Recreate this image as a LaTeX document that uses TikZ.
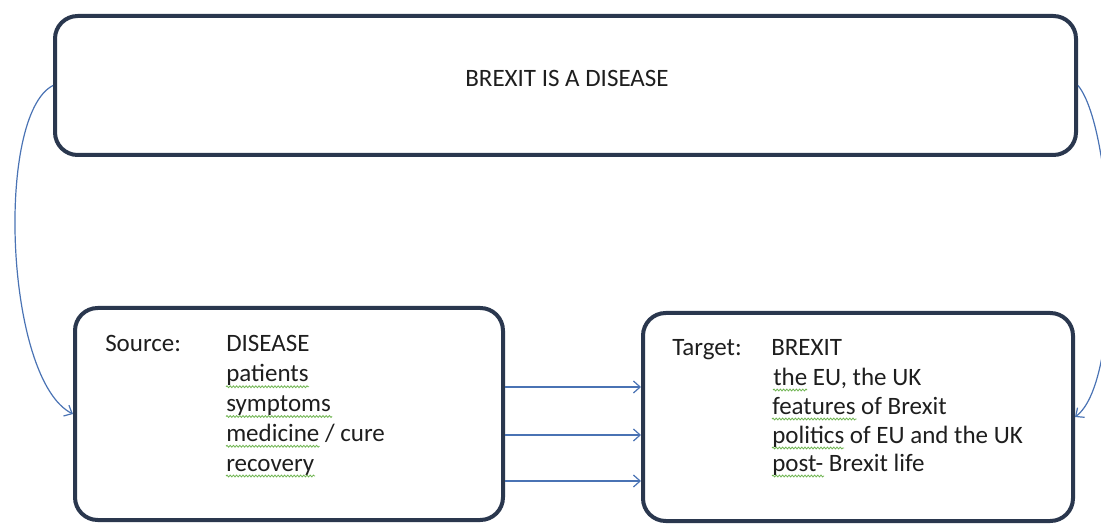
\documentclass[tikz,border=0pt]{standalone}
\usepackage{fontspec}
\setmainfont{Carlito}
\usetikzlibrary{arrows.meta,decorations.pathmorphing}
\definecolor{boxline}{RGB}{42,55,78}
\definecolor{connblue}{RGB}{74,115,180}
\definecolor{squiggle}{RGB}{110,180,80}
\definecolor{txt}{RGB}{30,30,30}
\begin{document}
\begin{tikzpicture}[x=0.75pt,y=-0.75pt,
  box/.style={draw=boxline, line width=3pt, rounded corners=17pt, inner sep=0pt},
  link/.style={draw=connblue, line width=0.9pt, -{Straight Barb[length=5pt,width=9pt]}},
  lbl/.style={anchor=base west, inner sep=0pt, text=txt, font=\fontsize{18.75}{22.5}\selectfont},
  squig/.style={draw=squiggle, line width=0.6pt, decorate, decoration={snake, amplitude=0.7pt, segment length=2.4pt}}]
\useasboundingbox (0,0) rectangle (1101,524);
\clip (0,0) rectangle (1101,524);
% boxes
\node[box, minimum width={1021*0.75pt}, minimum height={139*0.75pt}] (top) at (565.5,85.5) {};
\node[box, minimum width={428*0.75pt}, minimum height={212*0.75pt}] (src) at (289,414) {};
\node[box, minimum width={430*0.75pt}, minimum height={208*0.75pt}] (tgt) at (858,417) {};
% title
\node[lbl, anchor=base] (title) at (567,86.5) {BREXIT IS A DISEASE};
% source text
\node[lbl] (srclab) at (105,352) {Source:};
\node[lbl] (s0) at (226,352) {DISEASE};
\node[lbl] (s1) at (226,381.75) {patients};
\node[lbl] (s2) at (226,411.5) {symptoms};
\node[lbl] (s3) at (226,441.25) {medicine / cure};
\node[lbl] (s4) at (226,471) {recovery};
% target text
\node[lbl] (tgtlab) at (672,355) {Target:};
\node[lbl] (t0) at (771,355) {BREXIT};
\node[lbl] (t1) at (773,385) {the EU, the UK};
\node[lbl] (t2) at (772,414) {features of Brexit};
\node[lbl] (t3) at (772,443) {politics of EU and the UK};
\node[lbl] (t4) at (772,471) {post- Brexit life};
% spell-check squiggles
\draw[squig] ([yshift=-3.75pt]s1.base west) -- ++(83,0);
\draw[squig] ([yshift=-3.75pt]s2.base west) -- ++(106,0);
\draw[squig] ([yshift=-3.75pt]s3.base west) -- ++(93.5,0);
\draw[squig] ([yshift=-3.75pt]s4.base west) -- ++(89,0);
\draw[squig] ([yshift=-3.75pt]t1.base west) -- ++(34,0);
\draw[squig] ([yshift=-3.75pt]t2.base west) -- ++(84.5,0);
\draw[squig] ([yshift=-3.75pt]t3.base west) -- ++(72,0);
\draw[squig] ([yshift=-3.75pt]t4.base west) -- ++(52,0);
% connectors
\coordinate (r1) at (0,387);
\coordinate (r2) at (0,435);
\coordinate (r3) at (0,481);
\draw[link] (src.east |- r1) -- (tgt.west |- r1);
\draw[link] (src.east |- r2) -- (tgt.west |- r2);
\draw[link] (src.east |- r3) -- (tgt.west |- r3);
\draw[link] (top.west) .. controls (-5,115) and (5,380) .. (src.west);
\draw[link] (top.east) .. controls (1115,130) and (1125,380) .. (tgt.east);
\end{tikzpicture}
\end{document}
